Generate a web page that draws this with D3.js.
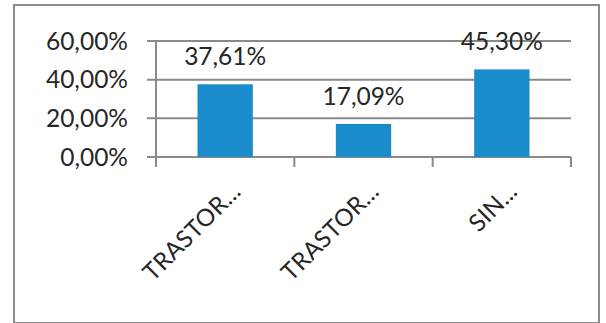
<!DOCTYPE html>
<html><head><meta charset="utf-8">
<script src="https://cdn.jsdelivr.net/npm/d3@7"></script>
<style>body{margin:0;background:#fff}svg{display:block}text{font-family:Lato,"Open Sans",sans-serif;fill:#262626}</style>
</head><body><svg id="c" width="606" height="323"></svg>
<script>
const categories = ["TRASTOR...", "TRASTOR...", "SIN..."];
const values = [0.3761, 0.1709, 0.4530];
const valueLabels = ["37,61%", "17,09%", "45,30%"];
const yTicks = [0, 0.2, 0.4, 0.6];
const yTickLabels = ["0,00%", "20,00%", "40,00%", "60,00%"];

const svg = d3.select("#c");
// outer frame
svg.append("rect").attr("x",14).attr("y",5).attr("width",585).attr("height",318)
  .attr("fill","#fff").attr("stroke","#8c8c8c").attr("stroke-width",2);

const x = d3.scaleBand().domain(d3.range(categories.length)).range([156,571]).paddingInner(0.6).paddingOuter(0.3);
const y = d3.scaleLinear().domain([0,0.6]).range([157,41]);
const g = svg.append("g");

// gridlines with left ticks
g.selectAll(".grid").data(yTicks).join("line")
  .attr("x1",147).attr("x2",571).attr("y1",d=>y(d)).attr("y2",d=>y(d))
  .attr("stroke","#8a8a8a").attr("stroke-width",2);
// y axis line
g.append("line").attr("x1",156).attr("x2",156).attr("y1",y(0.6)).attr("y2",y(0))
  .attr("stroke","#8a8a8a").attr("stroke-width",2);
// x category ticks
const bounds = d3.range(categories.length+1).map(i=>156 + i*(571-156)/categories.length);
g.selectAll(".xt").data(bounds).join("line")
  .attr("x1",d=>d).attr("x2",d=>d).attr("y1",y(0)).attr("y2",y(0)+10)
  .attr("stroke","#8a8a8a").attr("stroke-width",2);

// y labels
g.selectAll(".yl").data(yTicks).join("text")
  .attr("x",128).attr("y",d=>y(d)).attr("dy","0.35em").attr("text-anchor","end")
  .attr("font-size",24.5).text((d,i)=>yTickLabels[i]);

// bars
g.selectAll(".bar").data(values).join("rect")
  .attr("x",(d,i)=>x(i)).attr("width",x.bandwidth())
  .attr("y",d=>y(d)).attr("height",d=>y(0)-y(d)).attr("fill","#1a8bcb");

// value labels
g.selectAll(".vl").data(values).join("text")
  .attr("x",(d,i)=>x(i)+x.bandwidth()/2).attr("y",d=>y(d)-19)
  .attr("text-anchor","middle").attr("font-size",24.5).text((d,i)=>valueLabels[i]);

// x labels rotated
g.selectAll(".xl").data(categories).join("text")
  .attr("transform",(d,i)=>`translate(${x(i)+x.bandwidth()/2+17},${y(0)+36}) rotate(-45)`)
  .attr("text-anchor","end").attr("font-size",24).attr("letter-spacing",0.3).text(d=>d);
</script></body></html>
